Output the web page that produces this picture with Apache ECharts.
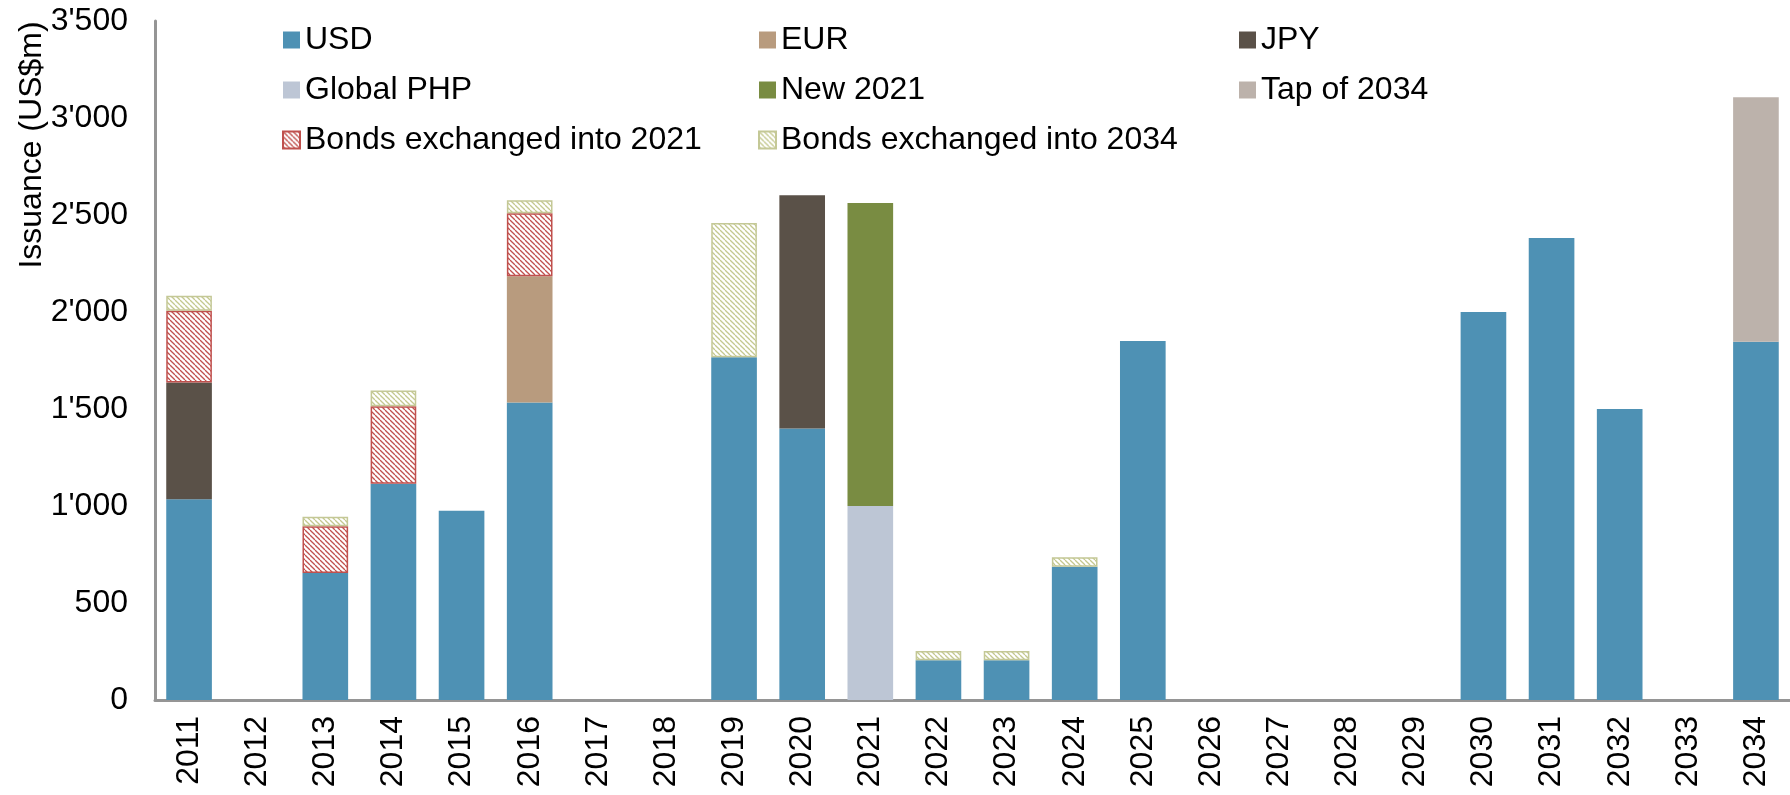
<!DOCTYPE html>
<html>
<head>
<meta charset="utf-8">
<title>Issuance by year</title>
<script src="https://cdn.jsdelivr.net/npm/echarts@6/dist/echarts.min.js"></script>
<style>
  html, body { margin: 0; padding: 0; background: #ffffff; }
  #chart { width: 1790px; height: 795px; }
</style>
</head>
<body>
<div id="chart"></div>
<script>
// Years on the category axis
const years = ['2011', '2012', '2013', '2014', '2015', '2016', '2017', '2018', '2019', '2020',
  '2021', '2022', '2023', '2024', '2025', '2026', '2027', '2028', '2029', '2030',
  '2031', '2032', '2033', '2034'];

// Issuance by component, US$m (null = nothing issued)
const usd = [1035, null, 655, 1115, 975, 1533, null, null, 1767, 1400,
  null, 205, 205, 687, 1850, null, null, null, null, 2000,
  2382, 1500, null, 1847];
const eur = [null, null, null, null, null, 651, null, null, null, null,
  null, null, null, null, null, null, null, null, null, null,
  null, null, null, null];
const jpy = [601, null, null, null, null, null, null, null, null, 1202,
  null, null, null, null, null, null, null, null, null, null,
  null, null, null, null];
const globalPhp = [null, null, null, null, null, null, null, null, null, null,
  1000, null, null, null, null, null, null, null, null, null,
  null, null, null, null];
const new2021 = [null, null, null, null, null, null, null, null, null, null,
  1562, null, null, null, null, null, null, null, null, null,
  null, null, null, null];
const tap2034 = [null, null, null, null, null, null, null, null, null, null,
  null, null, null, null, null, null, null, null, null, null,
  null, null, null, 1260];
const exchInto2021 = [371, null, 241, 399, null, 325, null, null, null, null,
  null, null, null, null, null, null, null, null, null, null,
  null, null, null, null];
const exchInto2034 = [77, null, 48, 82, null, 67, null, null, 692, null,
  null, 47, 47, 49, null, null, null, null, null, null,
  null, null, null, null];

// Y axis ticks
const yMin = 0, yMax = 3500, yStep = 500;

const FONT = "'Liberation Sans', Arial, sans-serif";

// Diagonal hatch tile ("\" stripes on white)
function hatch(color) {
  const s = 5;
  const c = document.createElement('canvas');
  c.width = s; c.height = s;
  const g = c.getContext('2d');
  g.fillStyle = '#ffffff';
  g.fillRect(0, 0, s, s);
  g.strokeStyle = color;
  g.lineWidth = 1.3;
  for (const x0 of [-s, 0, s]) {
    g.beginPath();
    g.moveTo(x0, 0);
    g.lineTo(x0 + s, s);
    g.stroke();
  }
  return { image: c.toDataURL(), repeat: 'repeat' };
}

function solid(name, data, color) {
  return {
    name, type: 'bar', stack: 'total', data, barWidth: '67%',
    itemStyle: { color }
  };
}

function hatched(name, data, lineColor, borderColor) {
  return {
    name, type: 'bar', stack: 'total', data, barWidth: '67%',
    itemStyle: { color: hatch(lineColor), borderColor, borderWidth: 1.5 }
  };
}

const legendText = { fontSize: 32, lineHeight: 32, color: '#000', fontFamily: FONT };
function legendCol(left, names) {
  return {
    orient: 'vertical', left, top: 24, padding: 0,
    itemWidth: 17, itemHeight: 17, itemGap: 18,
    icon: 'rect', textStyle: legendText, data: names,
    selectedMode: false
  };
}

const chart = echarts.init(document.getElementById('chart'));
chart.setOption({
  backgroundColor: '#ffffff',
  animation: false,
  textStyle: { fontFamily: FONT },
  grid: { left: 155, top: 21, width: 1636, bottom: 95, containLabel: false },
  legend: [
    legendCol(282, ['USD', 'Global PHP', 'Bonds exchanged into 2021']),
    legendCol(758, ['EUR', 'New 2021', 'Bonds exchanged into 2034']),
    legendCol(1239, ['JPY', 'Tap of 2034'])
  ],
  graphic: [{
    type: 'text',
    x: 32, y: 145,
    rotation: Math.PI / 2,
    style: {
      text: 'Issuance (US$m)',
      font: '32px ' + FONT,
      fill: '#000',
      align: 'center',
      verticalAlign: 'middle'
    }
  }],
  xAxis: {
    type: 'category',
    data: years,
    axisLine: { lineStyle: { color: '#959595', width: 3 } },
    axisTick: { show: false },
    axisLabel: { rotate: 90, fontSize: 32, color: '#000', margin: 16, interval: 0, fontFamily: FONT }
  },
  yAxis: {
    type: 'value',
    min: yMin, max: yMax, interval: yStep,
    axisLine: { show: true, lineStyle: { color: '#959595', width: 3 } },
    axisTick: { show: false },
    splitLine: { show: false },
    axisLabel: {
      fontSize: 32, color: '#000', margin: 27, fontFamily: FONT,
      formatter: v => String(v).replace(/\B(?=(\d{3})+(?!\d))/g, "'")
    }
  },
  series: [
    solid('USD', usd, '#4e91b4'),
    solid('Global PHP', globalPhp, '#bdc6d5'),
    solid('EUR', eur, '#b89b7e'),
    solid('JPY', jpy, '#5a5148'),
    solid('New 2021', new2021, '#798c42'),
    solid('Tap of 2034', tap2034, '#bcb2ab'),
    hatched('Bonds exchanged into 2021', exchInto2021, '#c0504d', '#c0504d'),
    hatched('Bonds exchanged into 2034', exchInto2034, '#c4c88f', '#c4c896')
  ]
});
</script>
</body>
</html>
